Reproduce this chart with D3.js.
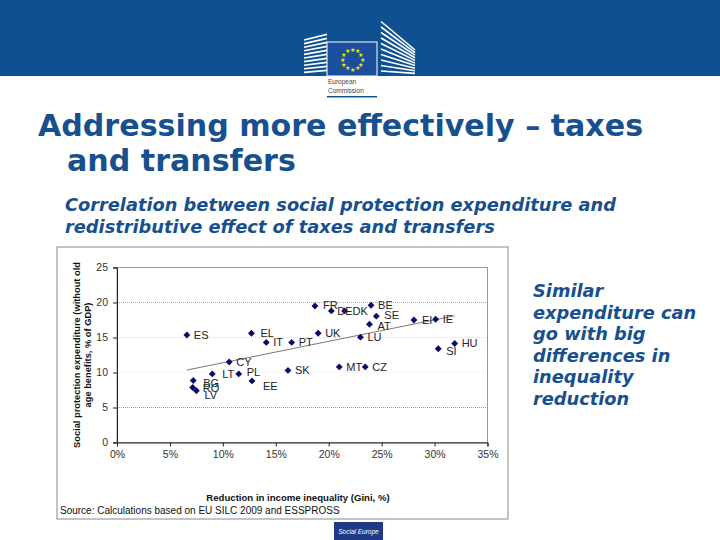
<!DOCTYPE html>
<html lang="en">
<head>
  <meta charset="UTF-8">
  <title>taxes and transfers</title>
  <script src="https://d3js.org/d3.v7.min.js"></script>
  <style>
    body { margin: 0; background: #fff; }
  </style>
</head>
<body>
  <svg id="slide" width="720" height="540"></svg>
  <script>
    // data
    const countries = ['ES', 'EL', 'IT', 'PT', 'UK', 'FR', 'DE', 'DK', 'BE', 'SE', 'AT', 'LU', 'FI', 'IE', 'SI', 'HU',
      'MT', 'CZ', 'SK', 'CY', 'LT', 'PL', 'EE', 'BG', 'RO', 'LV'];
    const giniReduction = [6.6, 12.7, 14.1, 16.5, 19.0, 18.7, 20.25, 21.5, 24.0, 24.5, 23.85, 23.0, 28.05, 30.1, 30.35, 31.9,
      21.0, 23.45, 16.15, 10.6, 9.0, 11.5, 12.75, 7.2, 7.15, 7.5];
    const spending = [15.35, 15.6, 14.3, 14.3, 15.6, 19.5, 18.8, 18.8, 19.6, 18.05, 16.9, 15.05, 17.5, 17.6, 13.4, 14.15,
      10.8, 10.8, 10.3, 11.5, 9.8, 9.8, 8.8, 8.85, 7.85, 7.4];
    const trendX = [6.6, 31.9];
    const trendY = [10.35, 18.1];
    const yTicks = [0, 5, 10, 15, 20, 25];
    const xTicks = [0, 5, 10, 15, 20, 25, 30, 35];
    const sideText = ['Similar', 'expenditure can', 'go with big', 'differences in', 'inequality', 'reduction'];

    const svg = d3.select('svg#slide');
    const blue = '#0f5190';
    const textBlue = '#17508e';

    // header band + logo
    svg.append('rect').attr('x', 0).attr('y', 0).attr('width', 720).attr('height', 76).attr('fill', blue);
    svg.append('rect').attr('x', 303).attr('y', 76).attr('width', 80).attr('height', 26).attr('fill', '#fff');
    const logo = svg.append('g');
    for (let i = 0; i < 10; i++) {
      // building stripes
      logo.append('line').attr('x1', 304).attr('x2', 327)
        .attr('y1', 40 + i * 3.6).attr('y2', 38 + i * 3.6 - (9 - i) * 0.4)
        .attr('stroke', '#fff').attr('stroke-width', 1.6);
      logo.append('line').attr('x1', 381).attr('x2', 415)
        .attr('y1', 26 + i * 5 - (9 - i) * 0.5).attr('y2', 50 + i * 2.6)
        .attr('stroke', '#fff').attr('stroke-width', 1.6);
    }
    logo.append('rect').attr('x', 327).attr('y', 42).attr('width', 50).attr('height', 34).attr('fill', '#1b4f9e')
      .attr('stroke', '#fff').attr('stroke-width', 1);
    for (let i = 0; i < 12; i++) {
      const a = i / 12 * Math.PI * 2;
      logo.append('text').attr('x', 352 + Math.cos(a) * 10).attr('y', 59 + Math.sin(a) * 10 + 2.5)
        .attr('text-anchor', 'middle').attr('font-size', 6).attr('fill', '#f7e400').text('★');
    }
    logo.append('text').attr('x', 328).attr('y', 84).attr('font-family', 'Arial, Liberation Sans')
      .attr('font-size', 6.5).attr('fill', '#444').text('European');
    logo.append('text').attr('x', 328).attr('y', 93).attr('font-family', 'Arial, Liberation Sans')
      .attr('font-size', 6.5).attr('fill', '#444').text('Commission');
    logo.append('rect').attr('x', 327).attr('y', 96).attr('width', 50).attr('height', 1.5).attr('fill', blue);

    // title
    const title = svg.append('text').attr('font-family', 'DejaVu Sans, Verdana').attr('font-weight', 'bold')
      .attr('font-size', 30.1).attr('fill', textBlue);
    title.append('tspan').attr('x', 38).attr('y', 136).text('Addressing more effectively – taxes');
    title.append('tspan').attr('x', 67).attr('y', 171).text('and transfers');

    const sub = svg.append('text').attr('font-family', 'DejaVu Sans, Verdana').attr('font-style', 'italic')
      .attr('font-weight', 'bold').attr('font-size', 17.8).attr('fill', textBlue);
    sub.append('tspan').attr('x', 65).attr('y', 211).text('Correlation between social protection expenditure and');
    sub.append('tspan').attr('x', 65).attr('y', 233).text('redistributive effect of taxes and transfers');

    const side = svg.append('text').attr('font-family', 'DejaVu Sans, Verdana').attr('font-style', 'italic')
      .attr('font-weight', 'bold').attr('font-size', 17.8).attr('fill', textBlue);
    sideText.forEach((t, i) => {
      side.append('tspan').attr('x', 533).attr('y', 297 + i * 21.6).text(t);
    });

    // chart frame
    svg.append('rect').attr('x', 57).attr('y', 247).attr('width', 451).attr('height', 272)
      .attr('fill', '#fff').attr('stroke', '#888').attr('stroke-width', 1);

    const margins = { left: 117, top: 267.5, right: 487.5, bottom: 442.5 };
    const x = d3.scaleLinear().domain([0, 35]).range([margins.left, margins.right]);
    const y = d3.scaleLinear().domain([0, 25]).range([margins.bottom, margins.top]);
    const chartArea = svg.append('g');

    // gridlines
    const gridColor = { 5: '#999', 10: '#eee', 15: '#ddd', 20: '#aaa' };
    yTicks.filter(t => t > 0 && t < 25).forEach(t => {
      chartArea.append('line').attr('x1', x(0)).attr('x2', x(35)).attr('y1', y(t)).attr('y2', y(t))
        .attr('stroke', gridColor[t]).attr('stroke-width', 1).attr('stroke-dasharray', '1,1');
    });
    chartArea.append('rect').attr('x', x(0)).attr('y', y(25)).attr('width', x(35) - x(0)).attr('height', y(0) - y(25))
      .attr('fill', 'none').attr('stroke', '#999').attr('stroke-width', 1);

    const yAxis = d3.axisLeft(y).tickValues(yTicks).tickSize(4).tickPadding(5);
    const xAxis = d3.axisBottom(x).tickValues(xTicks).tickSize(4).tickPadding(4).tickFormat(d => d + '%');
    const gy = chartArea.append('g').attr('transform', `translate(${x(0)},0)`).call(yAxis);
    const gx = chartArea.append('g').attr('transform', `translate(0,${y(0)})`).call(xAxis);
    [gx, gy].forEach(g => {
      g.select('.domain').attr('stroke', '#222');
      g.selectAll('.tick line').attr('stroke', '#222');
      g.selectAll('text').attr('font-family', 'Arial, Liberation Sans').attr('font-size', 10.5).attr('fill', '#333');
    });

    // trend line
    chartArea.append('line').attr('x1', x(trendX[0])).attr('y1', y(trendY[0]))
      .attr('x2', x(trendX[1])).attr('y2', y(trendY[1]))
      .attr('stroke', '#555').attr('stroke-width', 0.8);

    // points
    const diamond = d3.symbol().type(d3.symbolDiamond2).size(30);
    countries.forEach((c, i) => {
      chartArea.append('path').attr('d', diamond)
        .attr('transform', `translate(${x(giniReduction[i])},${y(spending[i])})`)
        .attr('fill', '#0a0a6a');
    });

    // labels, shifted a bit where they overlap
    const shift = { EE: [4, 5], BG: [3, 2], RO: [3, 0], LV: [1, 4], PL: [1, -2], SI: [1, 2], LT: [3, 0], EL: [2, 0],
      FI: [1, 0], AT: [1, 2], SE: [1, -1], FR: [1, -1], DE: [-1, 0], DK: [1, 0] };
    countries.forEach((c, i) => {
      const s = shift[c] || [0, 0];
      chartArea.append('text')
        .attr('x', x(giniReduction[i]) + 7 + s[0])
        .attr('y', y(spending[i]) + 4 + s[1])
        .attr('font-family', 'Arial, Liberation Sans').attr('font-size', 11).attr('fill', '#222')
        .text(c === 'FI' ? 'EI' : c);
    });

    // axis titles + source
    svg.append('text').attr('x', 298).attr('y', 501).attr('text-anchor', 'middle')
      .attr('font-family', 'Arial, Liberation Sans').attr('font-weight', 'bold').attr('font-size', 9.6)
      .attr('fill', '#111').text('Reduction in income inequality (Gini, %)');
    const yt = svg.append('text').attr('transform', 'translate(82,355) rotate(-90)').attr('text-anchor', 'middle')
      .attr('font-family', 'Arial, Liberation Sans').attr('font-weight', 'bold').attr('font-size', 9.3).attr('fill', '#111');
    yt.append('tspan').attr('x', 0).attr('y', -2.5).text('Social protection expenditure (without old');
    yt.append('tspan').attr('x', 0).attr('y', 9).text('age benefits, % of GDP)');
    svg.append('text').attr('x', 60).attr('y', 514)
      .attr('font-family', 'Arial, Liberation Sans').attr('font-size', 10)
      .attr('fill', '#111').text('Source: Calculations based on EU SILC 2009 and ESSPROSS');

    // footer badge
    svg.append('rect').attr('x', 334).attr('y', 522).attr('width', 49).attr('height', 18).attr('fill', '#1f3a86');
    svg.append('text').attr('x', 358.5).attr('y', 534).attr('text-anchor', 'middle')
      .attr('font-family', 'Arial, Liberation Sans').attr('font-style', 'italic').attr('font-size', 6.5)
      .attr('fill', '#fff').text('Social Europe');
  </script>
</body>
</html>
